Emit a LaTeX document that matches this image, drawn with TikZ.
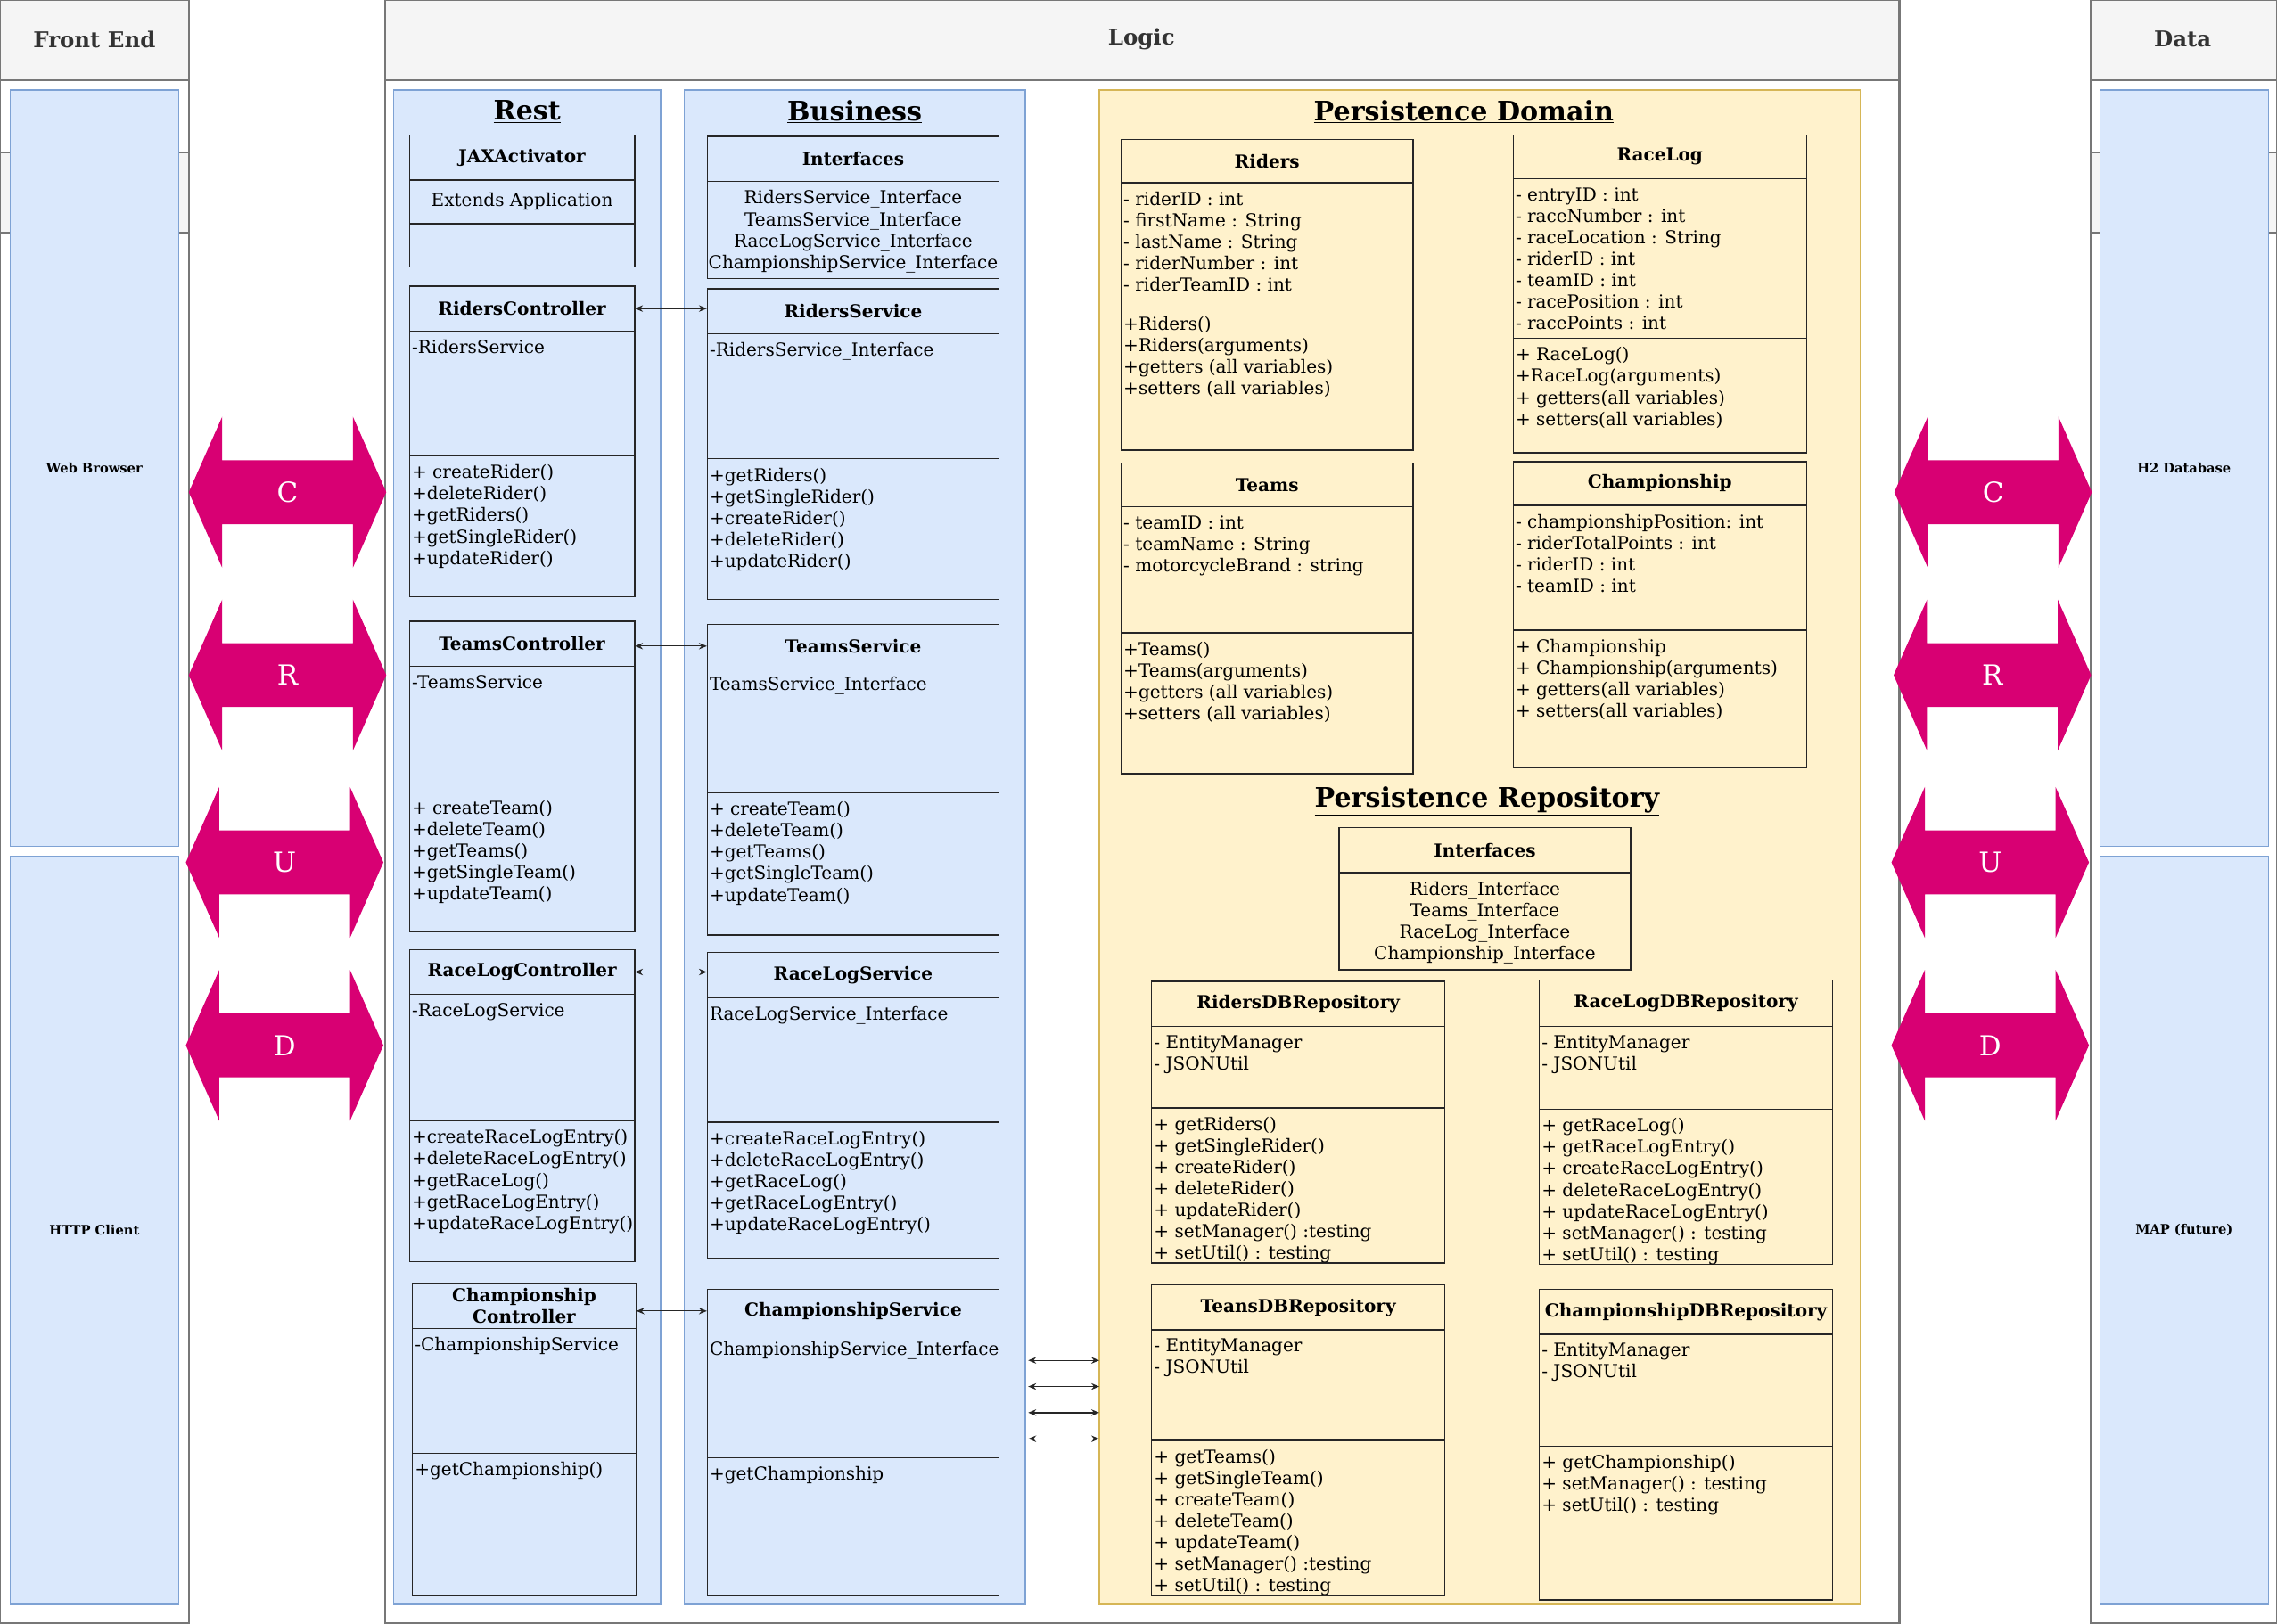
\documentclass[tikz,border=0pt]{standalone}
\usepackage{fontspec}
\setmainfont{DejaVu Serif}
\usetikzlibrary{arrows.meta}

\definecolor{blueF}{HTML}{DAE8FC}
\definecolor{blueD}{HTML}{7EA2D4}
\definecolor{yellowF}{HTML}{FFF2CC}
\definecolor{yellowD}{HTML}{D6B656}
\definecolor{grayF}{HTML}{F5F5F5}
\definecolor{grayD}{HTML}{777777}
\definecolor{grayT}{HTML}{333333}
\definecolor{crudPink}{HTML}{D80073}

% class box: id, fill, x, y top, width, y attrs, y methods, y bottom, title
\newcommand{\classbox}[9]{%
  \draw[boxline, fill=#2] (#3,#4) rectangle ({#3+#5},#8);
  \draw[boxline] (#3,#6) -- ++(#5,0) (#3,#7) -- ++(#5,0);
  \node[headtext, minimum width=#5, minimum height={#6-#4}] (#1) at ({#3+#5/2},{(#4+#6)/2}) {#9};
  \coordinate (#1-a) at (#3,#6);
  \coordinate (#1-m) at (#3,#7);
}

\begin{document}
\begin{tikzpicture}[x=1pt, y=-1pt, font=\fontsize{12.3}{14.8}\selectfont,
    boxline/.style={draw=black!85, line width=0.9pt},
    headtext/.style={font=\bfseries\fontsize{12.3}{14.5}\selectfont, inner sep=0pt, align=center},
    attr/.style={anchor=north west, align=left, inner xsep=1.5pt, inner ysep=6pt},
    ibody/.style={anchor=north, align=center, inner sep=6pt},
    callarrow/.style={{Stealth[length=5.5pt,width=4.5pt]}-{Stealth[length=5.5pt,width=4.5pt]}, line width=0.8pt, black!85},
    lane/.style={draw=grayD, line width=1.3pt},
    lanehead/.style={fill=grayF, draw=grayD, line width=1.3pt},
    lanetext/.style={font=\bfseries\fontsize{15}{18}\selectfont, text=grayT},
    bluebox/.style={fill=blueF, draw=blueD, line width=0.8pt},
    yellowbox/.style={fill=yellowF, draw=yellowD, line width=0.8pt},
    layertitle/.style={font=\bfseries\fontsize{18.5}{22}\selectfont},
    endtext/.style={font=\bfseries\fontsize{9}{11}\selectfont, inner sep=0pt},
    crudtext/.style={font=\fontsize{19}{22}\selectfont, text=white}]

    % Canvas
    \fill[white] (0,0) rectangle (1568,1118);
    \useasboundingbox (0,0) rectangle (1568,1118);

    % Lanes
    \draw[lane] (0,0) rectangle (130,1118);
    \draw[lanehead] (0,0) rectangle (130,55);
    \draw[lanehead] (0,105) rectangle (130,160);
    \node[lanetext] (frontend) at (65,27) {Front End};

    \draw[lane] (265,0) rectangle (1308,1118);
    \draw[lanehead] (265,0) rectangle (1308,55);
    \node[lanetext] (logic) at (786,27) {Logic};

    \draw[lane] (1440,0) rectangle (1568,1118);
    \draw[lanehead] (1440,0) rectangle (1568,55);
    \draw[lanehead] (1440,105) rectangle (1568,160);
    \node[lanetext] (data) at (1503,27) {Data};

    % Front end and data stores
    \node[bluebox, endtext, minimum width=116, minimum height=521] (web) at (65,322.5) {Web Browser};
    \node[bluebox, endtext, minimum width=116, minimum height=515] (http) at (65,847.5) {HTTP Client};
    \node[bluebox, endtext, minimum width=116, minimum height=521] (h2) at (1504,322.5) {H2 Database};
    \node[bluebox, endtext, minimum width=116, minimum height=515] (map) at (1504,847.5) {MAP (future)};

    % Layers
    \draw[bluebox] (271,62) rectangle (455,1105);
    \node[layertitle] (rest) at (363,77) {\underline{Rest}};
    \draw[bluebox] (471,62) rectangle (706,1105);
    \node[layertitle] (business) at (588.5,77) {\underline{Business}};
    \draw[yellowbox] (757,62) rectangle (1281,1105);
    \node[layertitle] (domain) at (1008,77) {\underline{Persistence Domain}};
    \node[layertitle] (repository) at (1024,552) {\underline{Persistence Repository}};

    % Rest
    \classbox{jax}{blueF}{282}{93}{155}{124}{154}{184}{JAXActivator}
    \node (jax-t) at (359.5,139) {Extends Application};

    \classbox{rc}{blueF}{282}{197}{155}{228}{314}{411}{RidersController}
    \node[attr] (rc-at) at (rc-a) {-RidersService};
    \node[attr] (rc-mt) at (rc-m) {+ createRider()\\+deleteRider()\\+getRiders()\\+getSingleRider()\\+updateRider()};

    \classbox{tc}{blueF}{282}{428}{155}{459}{545}{642}{TeamsController}
    \node[attr] (tc-at) at (tc-a) {-TeamsService};
    \node[attr] (tc-mt) at (tc-m) {+ createTeam()\\+deleteTeam()\\+getTeams()\\+getSingleTeam()\\+updateTeam()};

    \classbox{lc}{blueF}{282}{654}{155}{685}{772}{869}{RaceLogController}
    \node[attr] (lc-at) at (lc-a) {-RaceLogService};
    \node[attr] (lc-mt) at (lc-m) {+createRaceLogEntry()\\+deleteRaceLogEntry()\\+getRaceLog()\\+getRaceLogEntry()\\+updateRaceLogEntry()};

    \classbox{cc}{blueF}{284}{884}{154}{915}{1001}{1099}{Championship\\Controller}
    \node[attr] (cc-at) at (cc-a) {-ChampionshipService};
    \node[attr] (cc-mt) at (cc-m) {+getChampionship()};

    % Business
    \classbox{bi}{blueF}{487}{94}{201}{125}{192}{192}{Interfaces}
    \node[ibody] (bi-t) at (bi |- bi-a) {RidersService\_Interface\\TeamsService\_Interface\\RaceLogService\_Interface\\ChampionshipService\_Interface};

    \classbox{rs}{blueF}{487}{199}{201}{230}{316}{413}{RidersService}
    \node[attr] (rs-at) at (rs-a) {-RidersService\_Interface};
    \node[attr] (rs-mt) at (rs-m) {+getRiders()\\+getSingleRider()\\+createRider()\\+deleteRider()\\+updateRider()};

    \classbox{ts}{blueF}{487}{430}{201}{460}{546}{644}{TeamsService}
    \node[attr] (ts-at) at (ts-a) {TeamsService\_Interface};
    \node[attr] (ts-mt) at (ts-m) {+ createTeam()\\+deleteTeam()\\+getTeams()\\+getSingleTeam()\\+updateTeam()};

    \classbox{ls}{blueF}{487}{656}{201}{687}{773}{867}{RaceLogService}
    \node[attr] (ls-at) at (ls-a) {RaceLogService\_Interface};
    \node[attr] (ls-mt) at (ls-m) {+createRaceLogEntry()\\+deleteRaceLogEntry()\\+getRaceLog()\\+getRaceLogEntry()\\+updateRaceLogEntry()};

    \classbox{cs}{blueF}{487}{888}{201}{918}{1004}{1099}{ChampionshipService}
    \node[attr] (cs-at) at (cs-a) {ChampionshipService\_Interface};
    \node[attr] (cs-mt) at (cs-m) {+getChampionship};

    % Persistence domain
    \classbox{dr}{yellowF}{772}{96}{201}{126}{212}{310}{Riders}
    \node[attr] (dr-at) at (dr-a) {- riderID : int\\- firstName : String\\- lastName : String\\- riderNumber : int\\- riderTeamID : int};
    \node[attr] (dr-mt) at (dr-m) {+Riders()\\+Riders(arguments)\\+getters (all variables)\\+setters (all variables)};

    \classbox{dl}{yellowF}{1042}{93}{202}{123}{233}{312}{RaceLog}
    \node[attr] (dl-at) at (dl-a) {- entryID : int\\- raceNumber : int\\- raceLocation : String\\- riderID : int\\- teamID : int\\- racePosition : int\\- racePoints : int};
    \node[attr] (dl-mt) at (dl-m) {+ RaceLog()\\+RaceLog(arguments)\\+ getters(all variables)\\+ setters(all variables)};

    \classbox{dt}{yellowF}{772}{319}{201}{349}{436}{533}{Teams}
    \node[attr] (dt-at) at (dt-a) {- teamID : int\\- teamName : String\\- motorcycleBrand : string};
    \node[attr] (dt-mt) at (dt-m) {+Teams()\\+Teams(arguments)\\+getters (all variables)\\+setters (all variables)};

    \classbox{dc}{yellowF}{1042}{318}{202}{348}{434}{529}{Championship}
    \node[attr] (dc-at) at (dc-a) {- championshipPosition: int\\- riderTotalPoints : int\\- riderID : int\\- teamID : int};
    \node[attr] (dc-mt) at (dc-m) {+ Championship\\+ Championship(arguments)\\+ getters(all variables)\\+ setters(all variables)};

    % Persistence repository
    \classbox{ri}{yellowF}{922}{570}{201}{601}{668}{668}{Interfaces}
    \node[ibody] (ri-t) at (ri |- ri-a) {Riders\_Interface\\Teams\_Interface\\RaceLog\_Interface\\Championship\_Interface};

    \classbox{rr}{yellowF}{793}{676}{202}{707}{763}{870}{RidersDBRepository}
    \node[attr] (rr-at) at (rr-a) {- EntityManager\\- JSONUtil};
    \node[attr] (rr-mt) at (rr-m) {+ getRiders()\\+ getSingleRider()\\+ createRider()\\+ deleteRider()\\+ updateRider()\\+ setManager() :testing\\+ setUtil() : testing};

    \classbox{lr}{yellowF}{1060}{675}{202}{707}{764}{871}{RaceLogDBRepository}
    \node[attr] (lr-at) at (lr-a) {- EntityManager\\- JSONUtil};
    \node[attr] (lr-mt) at (lr-m) {+ getRaceLog()\\+ getRaceLogEntry()\\+ createRaceLogEntry()\\+ deleteRaceLogEntry()\\+ updateRaceLogEntry()\\+ setManager() : testing\\+ setUtil() : testing};

    \classbox{tr}{yellowF}{793}{885}{202}{916}{992}{1099}{TeansDBRepository}
    \node[attr] (tr-at) at (tr-a) {- EntityManager\\- JSONUtil};
    \node[attr] (tr-mt) at (tr-m) {+ getTeams()\\+ getSingleTeam()\\+ createTeam()\\+ deleteTeam()\\+ updateTeam()\\+ setManager() :testing\\+ setUtil() : testing};

    \classbox{cr}{yellowF}{1060}{888}{202}{919}{996}{1102}{ChampionshipDBRepository}
    \node[attr] (cr-at) at (cr-a) {- EntityManager\\- JSONUtil};
    \node[attr] (cr-mt) at (cr-m) {+ getChampionship()\\+ setManager() : testing\\+ setUtil() : testing};

    % Controller <-> service
    \draw[callarrow] (rc.east) -- (rc.east -| rs.west);
    \draw[callarrow] (ts.west -| tc.east) -- (ts.west);
    \draw[callarrow] (lc.east) -- (lc.east -| ls.west);
    \draw[callarrow] (cs.west -| cc.east) -- (cs.west);

    % Business <-> persistence
    \foreach \y [count=\i] in {937,955,973,991} {
        \coordinate (bz\i) at (708,\y);
        \coordinate (pd\i) at (757,\y);
        \draw[callarrow] (bz\i) -- (pd\i);
    }

    % CRUD arrows
    \foreach \lt/\cx/\cy [count=\i] in {C/198/339, R/198/465, U/196/594, D/196/720, C/1372.5/339, R/1372/465, U/1370.5/594, D/1370.5/720} {
        \fill[crudPink] ({\cx-68},\cy) -- ({\cx-45},{\cy-52}) -- ({\cx-45},{\cy-22}) -- ({\cx+45},{\cy-22}) -- ({\cx+45},{\cy-52})
            -- ({\cx+68},\cy) -- ({\cx+45},{\cy+52}) -- ({\cx+45},{\cy+22}) -- ({\cx-45},{\cy+22}) -- ({\cx-45},{\cy+52}) -- cycle;
        \node[crudtext] (crud\i) at (\cx,\cy) {\lt};
    }

\end{tikzpicture}
\end{document}
